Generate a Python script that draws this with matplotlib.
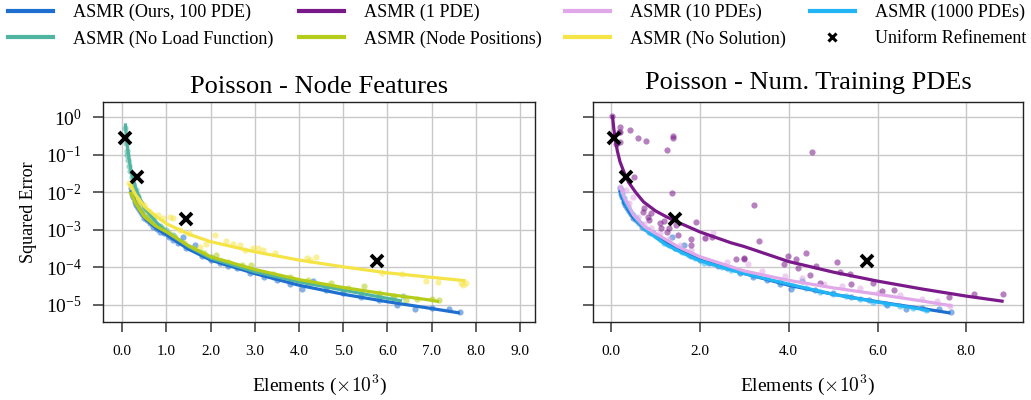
import numpy as np
import matplotlib
matplotlib.use('Agg')
import matplotlib.pyplot as plt
from matplotlib.lines import Line2D

plt.rcParams['font.family'] = 'serif'
plt.rcParams['font.serif'] = ['Liberation Serif', 'DejaVu Serif']
plt.rcParams['mathtext.fontset'] = 'cm'

# ---- data: x in thousands of elements, y given as log10(squared error) ----
# fitted curves
ours_x = [0.19, 0.3, 0.5, 0.75, 1.0, 1.5, 2.0, 3.0, 4.0, 5.0, 6.0, 7.0, 7.64]
ours_ly = [-1.95, -2.3, -2.68, -2.95, -3.14, -3.52, -3.81, -4.17, -4.48, -4.72, -4.92, -5.10, -5.22]

noload_x = [0.07, 0.09, 0.12, 0.2, 0.33, 0.5, 0.8, 1.0, 1.5, 2.0, 3.0, 4.0, 5.0, 6.0, 6.33]
noload_ly = [-0.17, -0.55, -0.84, -1.46, -1.99, -2.42, -2.84, -3.05, -3.45, -3.76, -4.12, -4.39, -4.61, -4.83, -4.90]

nodepos_x = [0.19, 0.3, 0.5, 0.75, 1.0, 1.5, 2.0, 3.0, 4.0, 5.0, 6.0, 7.0, 7.17]
nodepos_ly = [-1.99, -2.3, -2.66, -2.9, -3.06, -3.43, -3.72, -4.06, -4.33, -4.54, -4.72, -4.88, -4.92]

nosol_x = [0.16, 0.3, 0.5, 0.75, 1.0, 1.5, 2.0, 3.0, 4.0, 5.0, 6.0, 7.0, 7.77]
nosol_ly = [-1.77, -2.07, -2.38, -2.64, -2.84, -3.12, -3.32, -3.59, -3.81, -3.99, -4.15, -4.27, -4.36]

pde1_x = [0.03, 0.06, 0.09, 0.14, 0.2, 0.3, 0.39, 0.55, 0.73, 1.0, 1.25, 1.5, 2.0, 2.7, 3.0,
          4.0, 5.0, 6.0, 7.0, 8.0, 8.84]
pde1_ly = [0.05, -0.3, -0.57, -0.9, -1.19, -1.5, -1.73, -2.0, -2.26, -2.5, -2.66, -2.8, -3.06,
           -3.35, -3.45, -3.85, -4.13, -4.37, -4.58, -4.77, -4.91]

pde10_x = [0.2, 0.3, 0.5, 0.75, 1.0, 1.5, 2.0, 3.0, 4.0, 5.0, 6.0, 7.0, 7.68]
pde10_ly = [-1.84, -2.15, -2.6, -2.92, -3.1, -3.45, -3.72, -4.1, -4.35, -4.55, -4.72, -4.9, -5.03]

pde1000_x = [0.22, 0.35, 0.58, 0.88, 1.25, 1.62, 2.0, 2.6, 3.0, 4.0, 5.0, 6.0, 7.0, 7.17]
pde1000_ly = [-1.99, -2.35, -2.75, -3.1, -3.41, -3.63, -3.83, -4.04, -4.17, -4.45, -4.72, -4.93,
              -5.12, -5.17]

# individual runs (scatter)
ours_px = [0.19, 0.22, 0.25, 0.28, 0.32, 0.36, 0.4, 0.45, 0.5, 0.56, 0.62, 0.7, 0.78, 0.85, 0.95,
           1.05, 1.15, 1.25, 1.38, 1.45, 1.65, 1.8, 2.0, 2.2, 2.4, 2.6, 2.9, 3.2, 3.5, 3.8, 4.06,
           4.31, 4.6, 5.0, 5.4, 5.8, 6.22, 6.63, 7.0, 7.39, 7.65]
ours_pl = [-1.9, -2.05, -2.12, -2.25, -2.35, -2.42, -2.5, -2.58, -2.7, -2.75, -2.83, -2.92, -2.98,
           -3.05, -3.1, -3.2, -3.28, -3.35, -3.19, -3.48, -3.41, -3.7, -3.82, -3.88, -3.98, -4.02,
           -4.15, -4.25, -4.33, -4.45, -4.58, -4.36, -4.6, -4.7, -4.8, -4.88, -5.01, -5.10, -5.08,
           -5.10, -5.19]

noload_px = [0.07, 0.08, 0.09, 0.1, 0.11, 0.13, 0.15, 0.18, 0.21, 0.25, 0.3, 0.35, 0.42, 0.5, 0.6,
             0.7, 0.85, 1.0, 1.15, 1.3, 1.5, 1.75, 2.0, 2.3, 2.6, 3.0, 3.4, 3.8, 4.2, 4.6, 5.0,
             5.4, 5.8, 6.13, 6.36]
noload_pl = [-0.3, -0.55, -0.7, -0.9, -1.0, -1.15, -1.3, -1.45, -1.6, -1.78, -1.95, -2.1, -2.3,
             -2.45, -2.6, -2.72, -2.9, -3.0, -3.15, -3.3, -3.45, -3.6, -3.72, -3.9, -4.0, -4.1,
             -4.25, -4.35, -4.45, -4.52, -4.6, -4.68, -4.75, -4.79, -4.76]

nodepos_px = [0.2, 0.24, 0.28, 0.33, 0.4, 0.48, 0.55, 0.65, 0.75, 0.9, 1.05, 1.2, 1.4, 1.6, 1.85,
              2.11, 2.4, 2.7, 2.92, 3.41, 3.8, 4.2, 4.73, 5.1, 5.46, 5.82, 6.16, 6.42, 6.68, 7.0,
              7.17]
nodepos_pl = [-2.0, -2.1, -2.2, -2.3, -2.45, -2.55, -2.65, -2.75, -2.85, -2.95, -3.1, -3.2, -3.35,
              -3.5, -3.62, -3.68, -3.85, -3.95, -3.93, -4.17, -4.25, -4.35, -4.41, -4.55, -4.50,
              -4.68, -4.77, -4.88, -4.84, -4.85, -4.88]

nosol_px = [0.16, 0.2, 0.25, 0.3, 0.36, 0.42, 0.5, 0.6, 0.7, 0.8, 0.92, 1.08, 1.15, 1.3, 1.5, 1.75,
            1.9, 2.09, 2.35, 2.51, 2.66, 2.77, 2.96, 3.07, 3.19, 3.45, 4.17, 4.24, 4.38, 5.87, 6.33,
            6.87, 7.14, 7.66, 7.7, 7.77]
nosol_pl = [-1.75, -1.85, -1.98, -2.05, -2.2, -2.3, -2.35, -2.5, -2.6, -2.6, -2.68, -2.66, -2.70,
            -3.0, -3.1, -3.45, -3.37, -3.13, -3.30, -3.38, -3.42, -3.53, -3.50, -3.50, -3.53,
            -3.61, -3.75, -3.80, -3.72, -4.15, -4.17, -4.36, -4.39, -4.43, -4.48, -4.41]

pde1_px = [0.03, 0.19, 0.19, 0.43, 0.6, 0.79, 1.39, 1.39, 1.27, 0.11, 0.51, 1.37, 1.91, 0.75, 0.9,
           0.86, 1.09, 1.2, 1.27, 1.31, 1.12, 0.71, 0.82, 1.46, 3.22, 3.32, 1.51, 1.81, 1.79, 2.81,
           3.0, 3.98, 3.9, 4.52, 4.16, 4.39, 4.22, 4.61, 5.08, 5.38, 5.4, 4.7, 4.48, 5.89, 6.09,
           6.38, 7.61, 8.18, 8.83, 5.15, 2.99, 2.27, 2.12, 0.17, 0.13, 0.2]
pde1_pl = [0.02, -0.27, -0.40, -0.35, -0.57, -0.64, -0.51, -0.57, -0.87, -0.71, -1.59, -2.01, -2.80,
           -2.41, -2.56, -2.74, -2.83, -2.78, -3.05, -2.96, -2.96, -2.52, -2.65, -2.87, -2.35,
           -3.31, -3.13, -3.26, -3.42, -3.79, -3.76, -3.70, -3.91, -0.94, -3.77, -3.61, -4.01,
           -3.97, -3.87, -4.17, -4.46, -4.41, -4.21, -4.41, -4.63, -4.61, -4.80, -4.72, -4.72,
           -4.12, -3.77, -3.19, -3.21, -0.41, -0.70, -0.66]

pde10_px = [0.2, 0.25, 0.34, 0.4, 0.5, 0.6, 0.75, 0.9, 1.1, 1.3, 1.55, 1.8, 2.12, 2.3, 2.6, 3.08,
            3.4, 3.92, 4.3, 4.8, 5.2, 5.6, 6.0, 6.5, 7.0, 7.33, 7.63]
pde10_pl = [-1.86, -1.95, -1.95, -2.3, -2.12, -2.65, -2.85, -2.95, -3.1, -3.25, -3.4, -3.55, -3.21,
            -3.1, -3.85, -3.92, -4.1, -4.24, -4.3, -4.45, -4.5, -4.55, -4.7, -4.75, -4.85, -4.89,
            -5.03]

pde1000_px = [0.22, 0.25, 0.28, 0.3, 0.33, 0.37, 0.4, 0.45, 0.5, 0.55, 0.6, 0.68, 0.75, 0.82, 0.9,
              1.0, 1.1, 1.2, 1.3, 1.45, 1.6, 1.75, 1.9, 2.1, 2.3, 2.5, 2.7, 2.9, 3.2, 3.5, 3.8,
              4.1, 4.4, 4.7, 5.0, 5.3, 5.6, 5.9, 6.2, 6.5, 6.8, 7.1]
pde1000_pl = [-1.95, -2.05, -2.15, -2.25, -2.3, -2.4, -2.48, -2.55, -2.62, -2.7, -2.78, -2.85,
              -2.95, -3.02, -3.1, -3.18, -3.25, -3.35, -3.42, -3.5, -3.6, -3.68, -3.75, -3.88,
              -3.9, -4.0, -4.08, -4.12, -4.22, -4.3, -4.4, -4.5, -4.55, -4.65, -4.72, -4.78,
              -4.85, -4.92, -4.98, -5.02, -5.08, -5.15]

uniform_x = [0.06, 0.33, 1.45, 5.76]
uniform_y = [0.275, 0.026, 0.00195, 1.45e-4]

colors = {
    'ours': '#1f6fd1',
    'pde1': '#7a1a8a',
    'pde10': '#e0a8e8',
    'pde1000': '#22b5f5',
    'noload': '#4fb5a0',
    'nodepos': '#b5cc1a',
    'nosol': '#f5e446',
}


def pow10(v):
    return 10.0 ** np.array(v)


fig = plt.figure(figsize=(10.31, 4.0), dpi=100)
ax1 = fig.add_axes([0.1002, 0.194, 0.4187, 0.55])
ax2 = fig.add_axes([0.5755, 0.194, 0.4165, 0.55], sharey=ax1)

lw = 2.3
sc_kw = dict(s=20, alpha=0.55, linewidths=0, zorder=2)

# left panel: node features
left = [('ours', ours_px, ours_pl, ours_x, ours_ly),
        ('noload', noload_px, noload_pl, noload_x, noload_ly),
        ('nodepos', nodepos_px, nodepos_pl, nodepos_x, nodepos_ly),
        ('nosol', nosol_px, nosol_pl, nosol_x, nosol_ly)]
for key, px, pl, lx, ly in left:
    ax1.scatter(px, pow10(pl), color=colors[key], **sc_kw)
for key, px, pl, lx, ly in left:
    ax1.plot(lx, pow10(ly), color=colors[key], lw=lw, zorder=3, solid_capstyle='butt')

# right panel: number of training PDEs
right = [('ours', ours_px, ours_pl, ours_x, ours_ly),
         ('pde1000', pde1000_px, pde1000_pl, pde1000_x, pde1000_ly),
         ('pde10', pde10_px, pde10_pl, pde10_x, pde10_ly),
         ('pde1', pde1_px, pde1_pl, pde1_x, pde1_ly)]
for key, px, pl, lx, ly in right:
    ax2.scatter(px, pow10(pl), color=colors[key], **sc_kw)
for key, px, pl, lx, ly in right:
    ax2.plot(lx, pow10(ly), color=colors[key], lw=lw, zorder=3, solid_capstyle='butt')

for ax in (ax1, ax2):
    ax.plot(uniform_x, uniform_y, 'x', color='black', ms=8.5, mew=2.8, zorder=5)
    ax.set_yscale('log')
    ax.set_ylim(10 ** -5.47, 10 ** 0.39)
    ax.set_yticks([1e0, 1e-1, 1e-2, 1e-3, 1e-4, 1e-5])
    ax.minorticks_off()
    ax.grid(True, color='#c8c8c8', lw=1.0)
    ax.set_axisbelow(True)
    ax.tick_params(axis='both', direction='out', length=7.5, width=1.2, color='#444444',
                   labelsize=11, pad=9)
    ax.tick_params(axis='y', labelsize=14, pad=8)
    for s in ax.spines.values():
        s.set_linewidth(1.0)
        s.set_color('#222222')
    ax.set_xlabel(r'Elements ($\times 10^3$)', fontsize=14, labelpad=10)

ax1.set_xlim(-0.43, 9.34)
ax1.set_xticks(range(10))
ax1.set_xticklabels(['%.1f' % v for v in range(10)])
ax2.set_xlim(-0.40, 9.27)
ax2.set_xticks([0, 2, 4, 6, 8])
ax2.set_xticklabels(['%.1f' % v for v in [0, 2, 4, 6, 8]])
ax2.tick_params(axis='y', labelleft=False)

ax1.set_ylabel('Squared Error', fontsize=13, labelpad=6)
ax1.set_title('Poisson - Node Features', fontsize=19, pad=7)
ax2.set_title('Poisson - Num. Training PDEs', fontsize=19, pad=10)

# legend: one block per column, placed at the reference column positions
columns = [
    (['ours', 'noload'], ['ASMR (Ours, 100 PDE)', 'ASMR (No Load Function)'], 8),
    (['pde1', 'nodepos'], ['ASMR (1 PDE)', 'ASMR (Node Positions)'], 299),
    (['pde10', 'nosol'], ['ASMR (10 PDEs)', 'ASMR (No Solution)'], 565),
    (['pde1000', None], ['ASMR (1000 PDEs)', 'Uniform Refinement'], 810),
]
W, H = 1031.0, 400.0
for keys, labels, x0 in columns:
    handles = []
    for k in keys:
        if k is None:
            handles.append(Line2D([], [], ls='none', marker='x', color='black', ms=6, mew=2.2))
        else:
            handles.append(Line2D([], [], color=colors[k], lw=3))
    leg = fig.legend(handles, labels, loc='upper left', bbox_to_anchor=(x0 / W, 1 - 4 / H),
                     frameon=False, fontsize=13.1, handlelength=2.45, handletextpad=1.1,
                     labelspacing=0.5, borderpad=0.0, borderaxespad=0.0)

fig.savefig('out.png', dpi=100)
